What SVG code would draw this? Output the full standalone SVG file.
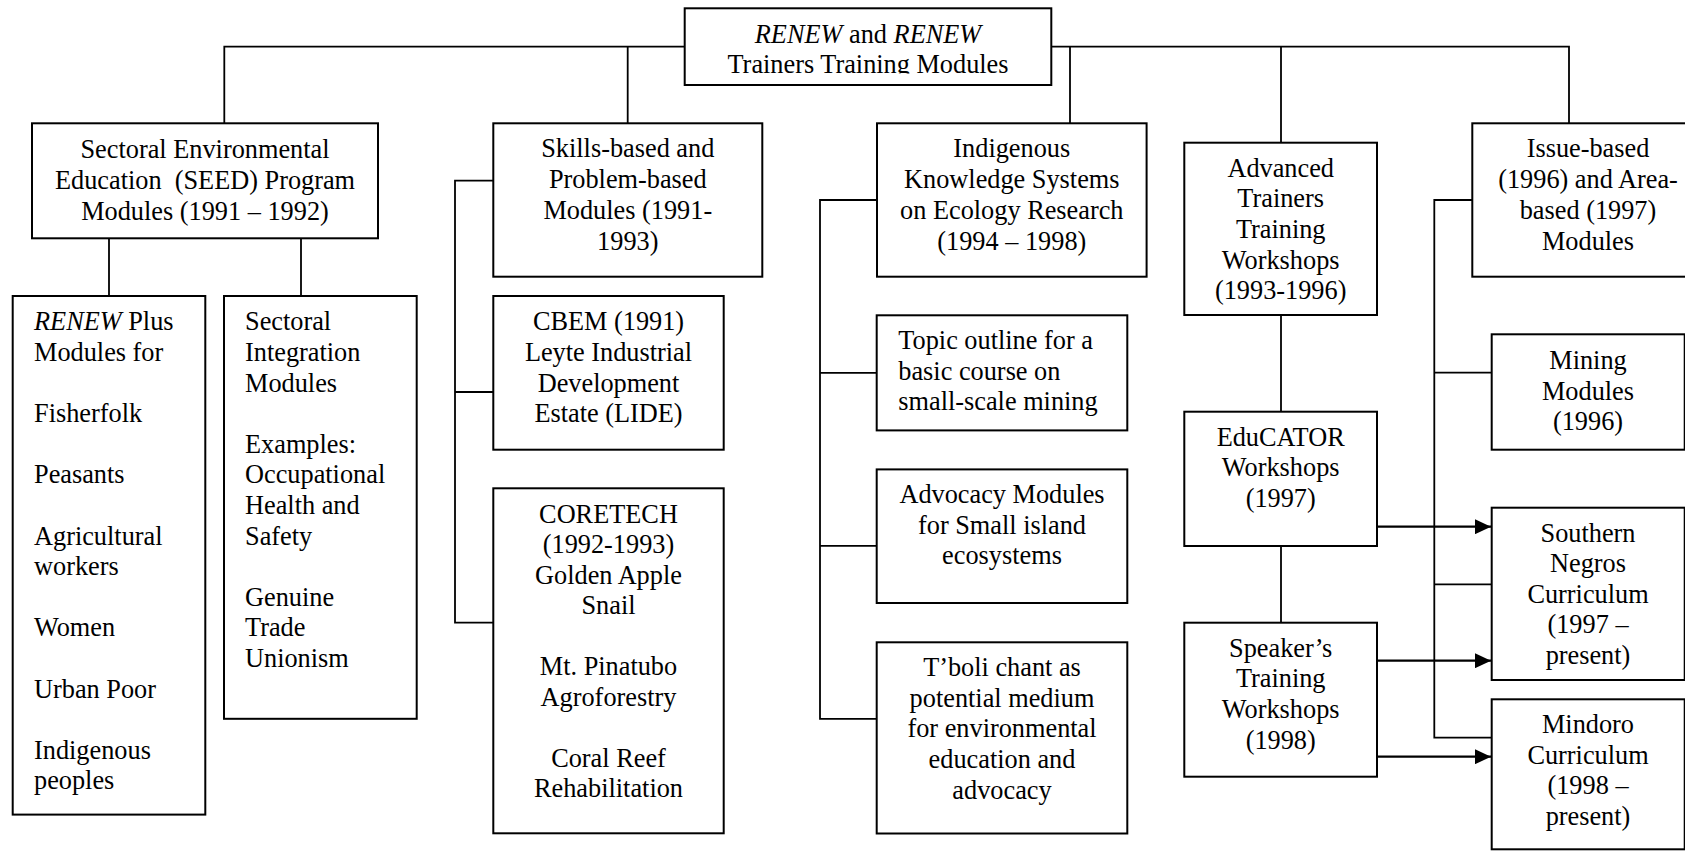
<svg xmlns="http://www.w3.org/2000/svg" width="1685" height="851" viewBox="0 0 1685 851">
<defs>
<style>
.box{fill:#fff;stroke:#000;stroke-width:2}
.t{font-family:"Liberation Serif","Times New Roman",serif;font-size:26.3px;fill:#000}
.c{text-anchor:middle}
.ln{fill:none;stroke:#000;stroke-width:1.8}
.arr{fill:none;stroke:#000;stroke-width:2.3}
.it{font-style:italic}
</style>
<marker id="ah" viewBox="0 0 16 15" refX="16" refY="7.5" markerWidth="16" markerHeight="15" markerUnits="userSpaceOnUse" orient="auto">
<path d="M0,0 L16,7.5 L0,15 Z" fill="#000"/>
</marker>
<clipPath id="rootClip"><rect x="684" y="0" width="368" height="73.5"/></clipPath>
</defs>
<rect width="1685" height="851" fill="#fff"/>

<!-- connectors -->
<g id="connectors">
<path class="ln" d="M224.3,123.3 V46.7 H684.7"/>
<path class="ln" d="M1051.3,46.7 H1569 V123.3"/>
<path class="ln" d="M627.7,46.7 V123.3"/>
<path class="ln" d="M1070,46.7 V123.3"/>
<path class="ln" d="M1281,46.7 V142.7"/>
<path class="ln" d="M109,238.3 V296"/>
<path class="ln" d="M301,238.3 V296"/>
<path class="ln" d="M493.3,180.7 H455 V622.7 H493.3"/>
<path class="ln" d="M455,392 H493.3"/>
<path class="ln" d="M877,200 H820 V718.8 H876.7"/>
<path class="ln" d="M820,372.9 H876.7"/>
<path class="ln" d="M820,545.8 H876.7"/>
<path class="ln" d="M1281,315 V411.7"/>
<path class="ln" d="M1281,546 V622.7"/>
<path class="ln" d="M1472.3,200 H1434.3 V737.7 H1491.7"/>
<path class="ln" d="M1434.3,372.7 H1491.7"/>
<path class="ln" d="M1434.3,584.3 H1491.7"/>
<path class="arr" d="M1377,526.7 H1491" marker-end="url(#ah)"/>
<path class="arr" d="M1377,660.7 H1491" marker-end="url(#ah)"/>
<path class="arr" d="M1377,756.7 H1491" marker-end="url(#ah)"/>
</g>

<g id="root">
<rect class="box" x="684.7" y="8.3" width="366.6" height="76.7"/>
<text class="t c" x="868" y="42.7"><tspan class="it">RENEW</tspan> and <tspan class="it">RENEW</tspan></text>
<text class="t c" x="868" y="72.7" clip-path="url(#rootClip)">Trainers Training Modules</text>
</g>

<g id="seed">
<rect class="box" x="32" y="123.3" width="346" height="115"/>
<text class="t c" xml:space="preserve"><tspan x="205" y="157.5">Sectoral Environmental</tspan><tspan x="205" y="188.5">Education  (SEED) Program</tspan><tspan x="205" y="219.5">Modules (1991 – 1992)</tspan></text>
</g>

<g id="skills">
<rect class="box" x="493.3" y="123.3" width="269" height="153.4"/>
<text class="t c"><tspan x="627.8" y="157.3">Skills-based and</tspan><tspan x="627.8" y="188.3">Problem-based</tspan><tspan x="627.8" y="219">Modules (1991-</tspan><tspan x="627.8" y="250">1993)</tspan></text>
</g>

<g id="indigenous">
<rect class="box" x="877" y="123.3" width="269.6" height="153.4"/>
<text class="t c"><tspan x="1011.8" y="157.3">Indigenous</tspan><tspan x="1011.8" y="188.3">Knowledge Systems</tspan><tspan x="1011.8" y="219">on Ecology Research</tspan><tspan x="1011.8" y="250">(1994 – 1998)</tspan></text>
</g>

<g id="advanced">
<rect class="box" x="1184.3" y="142.7" width="192.7" height="172.3"/>
<text class="t c"><tspan x="1280.7" y="176.7">Advanced</tspan><tspan x="1280.7" y="207.3">Trainers</tspan><tspan x="1280.7" y="238">Training</tspan><tspan x="1280.7" y="268.7">Workshops</tspan><tspan x="1280.7" y="299">(1993-1996)</tspan></text>
</g>

<g id="issue">
<rect class="box" x="1472.3" y="123.3" width="240" height="153.4"/>
<text class="t c"><tspan x="1588" y="157.3">Issue-based</tspan><tspan x="1588" y="188.3">(1996) and Area-</tspan><tspan x="1588" y="219">based (1997)</tspan><tspan x="1588" y="250">Modules</tspan></text>
</g>

<g id="renew-plus">
<rect class="box" x="12.7" y="296" width="192.6" height="518.6"/>
<text class="t"><tspan x="34" y="330.3"><tspan class="it">RENEW</tspan> Plus</tspan><tspan x="34" y="360.9">Modules for</tspan><tspan x="34" y="422.1">Fisherfolk</tspan><tspan x="34" y="483.3">Peasants</tspan><tspan x="34" y="544.5">Agricultural</tspan><tspan x="34" y="575.1">workers</tspan><tspan x="34" y="636.3">Women</tspan><tspan x="34" y="697.5">Urban Poor</tspan><tspan x="34" y="758.7">Indigenous</tspan><tspan x="34" y="789.3">peoples</tspan></text>
</g>

<g id="sectoral-integration">
<rect class="box" x="224" y="296" width="192.7" height="422.8"/>
<text class="t"><tspan x="245" y="330.3">Sectoral</tspan><tspan x="245" y="360.9">Integration</tspan><tspan x="245" y="391.5">Modules</tspan><tspan x="245" y="452.7">Examples:</tspan><tspan x="245" y="483.3">Occupational</tspan><tspan x="245" y="513.9">Health and</tspan><tspan x="245" y="544.5">Safety</tspan><tspan x="245" y="605.7">Genuine</tspan><tspan x="245" y="636.3">Trade</tspan><tspan x="245" y="666.9">Unionism</tspan></text>
</g>

<g id="cbem">
<rect class="box" x="493.3" y="296" width="230.4" height="153.7"/>
<text class="t c"><tspan x="608.5" y="330.3">CBEM (1991)</tspan><tspan x="608.5" y="360.9">Leyte Industrial</tspan><tspan x="608.5" y="391.5">Development</tspan><tspan x="608.5" y="422.1">Estate (LIDE)</tspan></text>
</g>

<g id="coretech">
<rect class="box" x="493.3" y="488.3" width="230.4" height="345"/>
<text class="t c"><tspan x="608.5" y="522.7">CORETECH</tspan><tspan x="608.5" y="553.2">(1992-1993)</tspan><tspan x="608.5" y="583.7">Golden Apple</tspan><tspan x="608.5" y="614.2">Snail</tspan><tspan x="608.5" y="675.2">Mt. Pinatubo</tspan><tspan x="608.5" y="705.7">Agroforestry</tspan><tspan x="608.5" y="766.7">Coral Reef</tspan><tspan x="608.5" y="797.2">Rehabilitation</tspan></text>
</g>

<g id="topic-outline">
<rect class="box" x="876.7" y="315.3" width="250.6" height="115.1"/>
<text class="t"><tspan x="898.3" y="349.2">Topic outline for a</tspan><tspan x="898.3" y="379.6">basic course on</tspan><tspan x="898.3" y="410">small-scale mining</tspan></text>
</g>

<g id="advocacy">
<rect class="box" x="876.7" y="469.4" width="250.6" height="133.6"/>
<text class="t c"><tspan x="1002" y="503">Advocacy Modules</tspan><tspan x="1002" y="533.5">for Small island</tspan><tspan x="1002" y="564">ecosystems</tspan></text>
</g>

<g id="tboli">
<rect class="box" x="876.7" y="642.3" width="250.6" height="191.2"/>
<text class="t c"><tspan x="1002" y="676.2">T’boli chant as</tspan><tspan x="1002" y="706.8">potential medium</tspan><tspan x="1002" y="737.4">for environmental</tspan><tspan x="1002" y="768">education and</tspan><tspan x="1002" y="798.6">advocacy</tspan></text>
</g>

<g id="educator">
<rect class="box" x="1184.3" y="411.7" width="192.7" height="134.3"/>
<text class="t c"><tspan x="1280.7" y="445.5">EduCATOR</tspan><tspan x="1280.7" y="476">Workshops</tspan><tspan x="1280.7" y="506.5">(1997)</tspan></text>
</g>

<g id="speakers">
<rect class="box" x="1184.3" y="622.7" width="192.7" height="154"/>
<text class="t c"><tspan x="1280.7" y="656.5">Speaker’s</tspan><tspan x="1280.7" y="687">Training</tspan><tspan x="1280.7" y="717.5">Workshops</tspan><tspan x="1280.7" y="748.5">(1998)</tspan></text>
</g>

<g id="mining">
<rect class="box" x="1491.7" y="334.3" width="193" height="115.4"/>
<text class="t c"><tspan x="1588" y="369">Mining</tspan><tspan x="1588" y="399.5">Modules</tspan><tspan x="1588" y="430">(1996)</tspan></text>
</g>

<g id="southern-negros">
<rect class="box" x="1491.7" y="507.7" width="193" height="172.3"/>
<text class="t c"><tspan x="1588" y="541.7">Southern</tspan><tspan x="1588" y="572.2">Negros</tspan><tspan x="1588" y="602.7">Curriculum</tspan><tspan x="1588" y="633.2">(1997 –</tspan><tspan x="1588" y="663.7">present)</tspan></text>
</g>

<g id="mindoro">
<rect class="box" x="1491.7" y="699.3" width="193" height="150"/>
<text class="t c"><tspan x="1588" y="733.3">Mindoro</tspan><tspan x="1588" y="763.8">Curriculum</tspan><tspan x="1588" y="794.3">(1998 –</tspan><tspan x="1588" y="824.8">present)</tspan></text>
</g>
</svg>
